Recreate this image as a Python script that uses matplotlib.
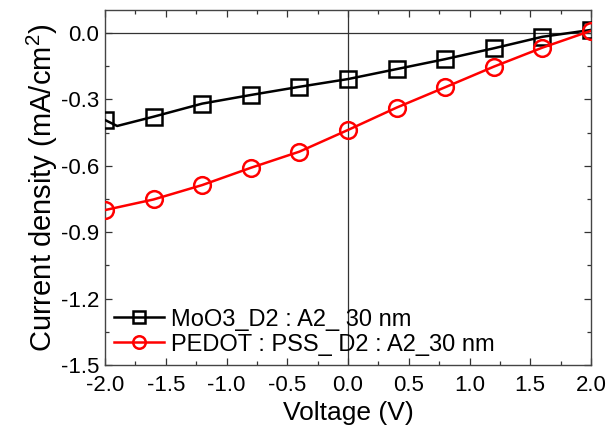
import matplotlib
matplotlib.use("Agg")
import matplotlib.pyplot as plt
from matplotlib.ticker import MultipleLocator

plt.rcParams['font.family'] = ['Liberation Sans', 'DejaVu Sans']

# data
v_moo3 = [-2.0, -1.9, -1.6, -1.2, -0.8, -0.4, 0.0, 0.4, 0.8, 1.2, 1.6, 2.0]
j_moo3 = [-0.393, -0.42, -0.378, -0.319, -0.280, -0.243, -0.208, -0.163, -0.118, -0.069, -0.017, 0.014]
v_pedot = [-2.0, -1.6, -1.2, -0.8, -0.4, 0.0, 0.4, 0.8, 1.2, 1.6, 2.0]
j_pedot = [-0.800, -0.752, -0.687, -0.609, -0.536, -0.438, -0.337, -0.245, -0.152, -0.066, 0.010]
label_moo3 = "MoO3_D2 : A2_ 30 nm"
label_pedot = "PEDOT : PSS_ D2 : A2_30 nm"
xticks = [-2.0, -1.5, -1.0, -0.5, 0.0, 0.5, 1.0, 1.5, 2.0]
yticks = [0.0, -0.3, -0.6, -0.9, -1.2, -1.5]

fig = plt.figure(figsize=(6.08, 4.32), dpi=100)
ax = fig.add_axes([105/608, 1-365/432, (591-105)/608, (365-10)/432])

ax.axhline(0, color='#333333', lw=0.9, zorder=1)
ax.axvline(0, color='#333333', lw=0.9, zorder=1)

mk_m = [i for i, v in enumerate(v_moo3) if v != -1.9]
ax.plot(v_moo3, j_moo3, color='black', lw=1.8, marker='s', markersize=11,
        markerfacecolor='none', markeredgewidth=1.8, markevery=mk_m, label=label_moo3, zorder=3)
ax.plot(v_pedot, j_pedot, color='red', lw=1.8, marker='o', markersize=12,
        markerfacecolor='none', markeredgewidth=1.8, label=label_pedot, zorder=3)

ax.set_xlim(-2.0, 2.0)
ax.set_ylim(-1.5, 0.104)
ax.set_xticks(xticks)
ax.set_yticks(yticks)
ax.set_xticklabels([f"{t:.1f}" for t in xticks])
ax.set_yticklabels([f"{t:.1f}" for t in yticks])
ax.xaxis.set_minor_locator(MultipleLocator(0.25))
ax.yaxis.set_minor_locator(MultipleLocator(0.15))
ax.tick_params(which='both', direction='in', top=True, right=True, labelsize=16, color='#333333')
ax.tick_params(which='major', length=5, width=0.9)
ax.tick_params(axis='x', which='major', pad=7)
ax.tick_params(axis='y', which='major', pad=4)
ax.tick_params(which='minor', length=3, width=0.9)
for s in ax.spines.values():
    s.set_color('#444444')
    s.set_linewidth(1.0)

ax.set_xlabel("Voltage (V)", fontsize=19, labelpad=4)
ax.set_ylabel(r"Current density (mA/cm$\mathregular{^2}$)", fontsize=21, labelpad=1)

leg = ax.legend(loc='lower left', frameon=False, fontsize=17, handlelength=2.1,
                markerscale=0.75, borderaxespad=0.2, handletextpad=0.3, labelspacing=0.12,
                borderpad=0.2)

fig.savefig("out.png", dpi=100)
